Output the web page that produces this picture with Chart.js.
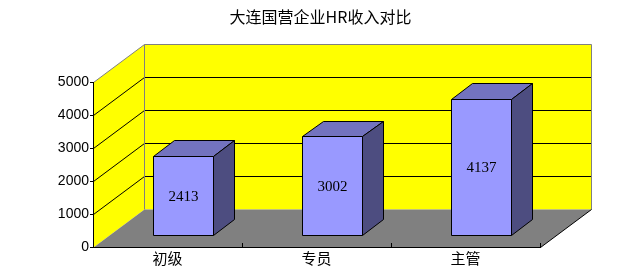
<!DOCTYPE html>
<html>
<head>
<meta charset="utf-8">
<script src="https://cdn.jsdelivr.net/npm/chart.js@4"></script>
<style>
html, body { margin: 0; padding: 0; background: #fff; }
canvas { display: block; }
</style>
</head>
<body>
<canvas id="chart" width="641" height="279"></canvas>
<script>
// data
const categories = ['初级', '专员', '主管'];
const salaries = [2413, 3002, 4137];
const yMin = 0;
const yMax = 5000;
const yStep = 1000;
const chartTitle = '大连国营企业HR收入对比';

// 3D look: depth vector of the floor, bar offset / depth as share of it
const DEPTH = { x: 51, y: -38.3 };
const BAR_FRONT = 0.3;
const BAR_DEPTH = 0.41;

const px = v => Math.round(v) + 0.5;

function poly(ctx, pts, fill, stroke) {
    ctx.beginPath();
    pts.forEach((p, i) => i ? ctx.lineTo(p[0], p[1]) : ctx.moveTo(p[0], p[1]));
    ctx.closePath();
    if (fill) { ctx.fillStyle = fill; ctx.fill(); }
    if (stroke) { ctx.strokeStyle = stroke; ctx.lineWidth = 1; ctx.stroke(); }
}

function line(ctx, pts, color) {
    ctx.beginPath();
    pts.forEach((p, i) => i ? ctx.lineTo(p[0], p[1]) : ctx.moveTo(p[0], p[1]));
    ctx.strokeStyle = color;
    ctx.lineWidth = 1;
    ctx.stroke();
}

// walls, floor and gridlines, drawn before the axes
const walls3d = {
    id: 'walls3d',
    beforeDraw(chart) {
        const { ctx, chartArea: a, scales: { y } } = chart;
        const dx = DEPTH.x, dy = DEPTH.y;
        const L = px(a.left), R = px(a.right);
        const y0 = px(y.getPixelForValue(yMin)), yT = px(y.getPixelForValue(yMax));
        const bL = px(a.left + dx), bR = px(a.right + dx);
        const by0 = px(y.getPixelForValue(yMin) + dy), byT = px(y.getPixelForValue(yMax) + dy);
        ctx.save();
        // back wall + left wall
        poly(ctx, [[bL, byT], [bR, byT], [bR, by0], [bL, by0]], '#ffff00');
        poly(ctx, [[L, y0], [L, yT], [bL, byT], [bL, by0]], '#ffff00');
        // floor
        poly(ctx, [[L, y0], [R, y0], [bR, by0], [bL, by0]], '#808080');

        // gridlines on both walls
        for (let v = yMin + yStep; v < yMax; v += yStep) {
            const p = y.getPixelForValue(v);
            line(ctx, [[L, px(p)], [bL, px(p + dy)], [bR, px(p + dy)]], '#000000');
        }
        // wall edges
        line(ctx, [[L, yT], [bL, byT], [bR, byT], [bR, by0]], '#808080');
        line(ctx, [[bL, byT], [bL, by0]], '#808080');
        line(ctx, [[R, y0], [bR, by0]], '#000000');
        ctx.restore();
    }
};

// 3D bars on top of the hidden Chart.js bars
const bars3d = {
    id: 'bars3d',
    afterDatasetsDraw(chart) {
        const { ctx, scales: { x } } = chart;
        const a = chart.chartArea;
        ctx.save();
        // small category ticks on the floor edge
        for (let i = 0; i < categories.length; i++) {
            const edge = i < categories.length - 1
                ? (x.getPixelForValue(i) + x.getPixelForValue(i + 1)) / 2
                : a.right;
            line(ctx, [[px(edge), Math.round(a.bottom) - 4], [px(edge), Math.round(a.bottom)]], '#000000');
        }

        const fx = DEPTH.x * BAR_FRONT, fy = DEPTH.y * BAR_FRONT;
        const bx = DEPTH.x * BAR_DEPTH, by = DEPTH.y * BAR_DEPTH;
        const meta = chart.getDatasetMeta(0);
        meta.data.forEach((bar, i) => {
            const { x: cx, y: top, base, width } = bar.getProps(['x', 'y', 'base', 'width'], true);
            const l = px(cx - width / 2 + fx), r = px(cx + width / 2 + fx);
            const t = px(top + fy), b = px(base + fy);
            const rb = px(cx + width / 2 + fx + bx), lb = px(cx - width / 2 + fx + bx);
            const tb = px(top + fy + by), bb = px(base + fy + by);

            poly(ctx, [[l, t], [r, t], [rb, tb], [lb, tb]], '#7373bf', '#000000');
            poly(ctx, [[r, t], [rb, tb], [rb, bb], [r, b]], '#4d4d80', '#000000');
            poly(ctx, [[l, t], [r, t], [r, b], [l, b]], '#9999ff', '#000000');

            ctx.fillStyle = '#000000';
            ctx.font = "15px 'Liberation Serif'";
            ctx.textAlign = 'center';
            ctx.textBaseline = 'middle';
            ctx.fillText(String(salaries[i]), (l + r) / 2, (t + b) / 2 + 1);
        });
        ctx.restore();
    }
};

new Chart(document.getElementById('chart'), {
    type: 'bar',
    data: {
        labels: categories,
        datasets: [{
            data: salaries,
            backgroundColor: 'rgba(0,0,0,0)',
            borderWidth: 0,
            barPercentage: 0.4,
            categoryPercentage: 1
        }]
    },
    options: {
        responsive: false,
        animation: false,
        devicePixelRatio: 1,
        layout: { padding: 0 },
        plugins: {
            legend: { display: false },
            tooltip: { enabled: false },
            title: {
                display: true,
                text: chartTitle,
                color: '#000000',
                font: { family: "'Noto Sans CJK SC'", size: 16, weight: 'normal' },
                padding: { top: 7, bottom: 55.8 }
            }
        },
        scales: {
            x: {
                grid: { display: false, drawTicks: false },
                border: { display: true, color: '#000000', width: 1 },
                ticks: {
                    color: '#000000',
                    padding: 2,
                    font: { family: "'Noto Sans CJK SC'", size: 15 }
                },
                afterFit(scale) { scale.height = 32; }
            },
            y: {
                min: yMin,
                max: yMax,
                grid: { drawOnChartArea: false, tickLength: 3, color: '#000000' },
                border: { display: true, color: '#000000', width: 1 },
                ticks: {
                    stepSize: yStep,
                    color: '#000000',
                    padding: 1,
                    font: { family: "'Liberation Sans'", size: 14 },
                    callback: v => String(v)
                },
                afterFit(scale) { scale.width = 93; }
            },
            // empty right axis: keeps room for the 3D depth on the right
            yRight: {
                position: 'right',
                min: yMin,
                max: yMax,
                grid: { display: false, drawTicks: false },
                border: { display: false },
                ticks: { display: false },
                afterFit(scale) { scale.width = 101; }
            }
        }
    },
    plugins: [walls3d, bars3d]
});
</script>
</body>
</html>
